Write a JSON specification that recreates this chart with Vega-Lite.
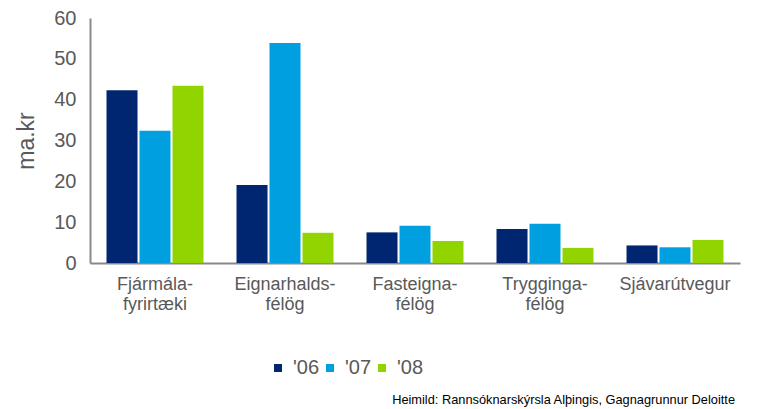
{
  "$schema": "https://vega.github.io/schema/vega-lite/v6.json",
  "width": 650,
  "height": 245,
  "autosize": "none",
  "padding": {"left": 90, "top": 18, "right": 17, "bottom": 146},
  "background": "white",
  "config": {
    "font": "Liberation Sans",
    "view": {"stroke": null}
  },
  "title": {
    "text": "Heimild: Rannsóknarskýrsla Alþingis, Gagnagrunnur Deloitte",
    "orient": "bottom",
    "anchor": "end",
    "fontSize": 12.8,
    "fontWeight": "normal",
    "color": "#000000",
    "offset": 16,
    "dx": -5
  },
  "data": {
    "values": [
      {"cat": "Fjármála- fyrirtæki", "year": "'06", "v": 42.3},
      {"cat": "Fjármála- fyrirtæki", "year": "'07", "v": 32.4},
      {"cat": "Fjármála- fyrirtæki", "year": "'08", "v": 43.4},
      {"cat": "Eignarhalds- félög", "year": "'06", "v": 19.1},
      {"cat": "Eignarhalds- félög", "year": "'07", "v": 53.9},
      {"cat": "Eignarhalds- félög", "year": "'08", "v": 7.4},
      {"cat": "Fasteigna- félög", "year": "'06", "v": 7.5},
      {"cat": "Fasteigna- félög", "year": "'07", "v": 9.1},
      {"cat": "Fasteigna- félög", "year": "'08", "v": 5.4},
      {"cat": "Trygginga- félög", "year": "'06", "v": 8.3},
      {"cat": "Trygginga- félög", "year": "'07", "v": 9.6},
      {"cat": "Trygginga- félög", "year": "'08", "v": 3.7},
      {"cat": "Sjávarútvegur", "year": "'06", "v": 4.3},
      {"cat": "Sjávarútvegur", "year": "'07", "v": 3.85},
      {"cat": "Sjávarútvegur", "year": "'08", "v": 5.65}
    ]
  },
  "mark": {"type": "bar"},
  "encoding": {
    "x": {
      "field": "cat",
      "type": "nominal",
      "sort": null,
      "title": null,
      "scale": {"paddingInner": 0.254, "paddingOuter": 0.127},
      "axis": {
        "labelAngle": 0,
        "ticks": false,
        "domainColor": "#898989",
        "domainWidth": 2,
        "labelFontSize": 18,
        "labelColor": "#595959",
        "labelPadding": 12,
        "labelLineHeight": 20,
        "labelBaseline": "top",
        "labelExpr": "split(datum.label, ' ')"
      }
    },
    "xOffset": {
      "field": "year",
      "type": "nominal",
      "scale": {"paddingInner": 0.06}
    },
    "y": {
      "field": "v",
      "type": "quantitative",
      "title": "ma.kr",
      "scale": {"domain": [0, 60], "nice": false},
      "axis": {
        "values": [0, 10, 20, 30, 40, 50, 60],
        "grid": false,
        "ticks": false,
        "domainColor": "#898989",
        "domainWidth": 2,
        "labelFontSize": 20,
        "labelColor": "#595959",
        "labelPadding": 14,
        "titleFontSize": 23,
        "titleFontWeight": "normal",
        "titleColor": "#595959",
        "titlePadding": 15
      }
    },
    "color": {
      "field": "year",
      "type": "nominal",
      "scale": {"domain": ["'06", "'07", "'08"], "range": ["#002672", "#00A0E0", "#92D400"]},
      "legend": {
        "title": null,
        "orient": "none",
        "direction": "horizontal",
        "legendX": 178,
        "legendY": 340,
        "symbolType": "square",
        "symbolSize": 64,
        "symbolStrokeWidth": 0,
        "labelFontSize": 20,
        "labelColor": "#595959",
        "labelOffset": 5,
        "columnPadding": -5
      }
    }
  }
}
